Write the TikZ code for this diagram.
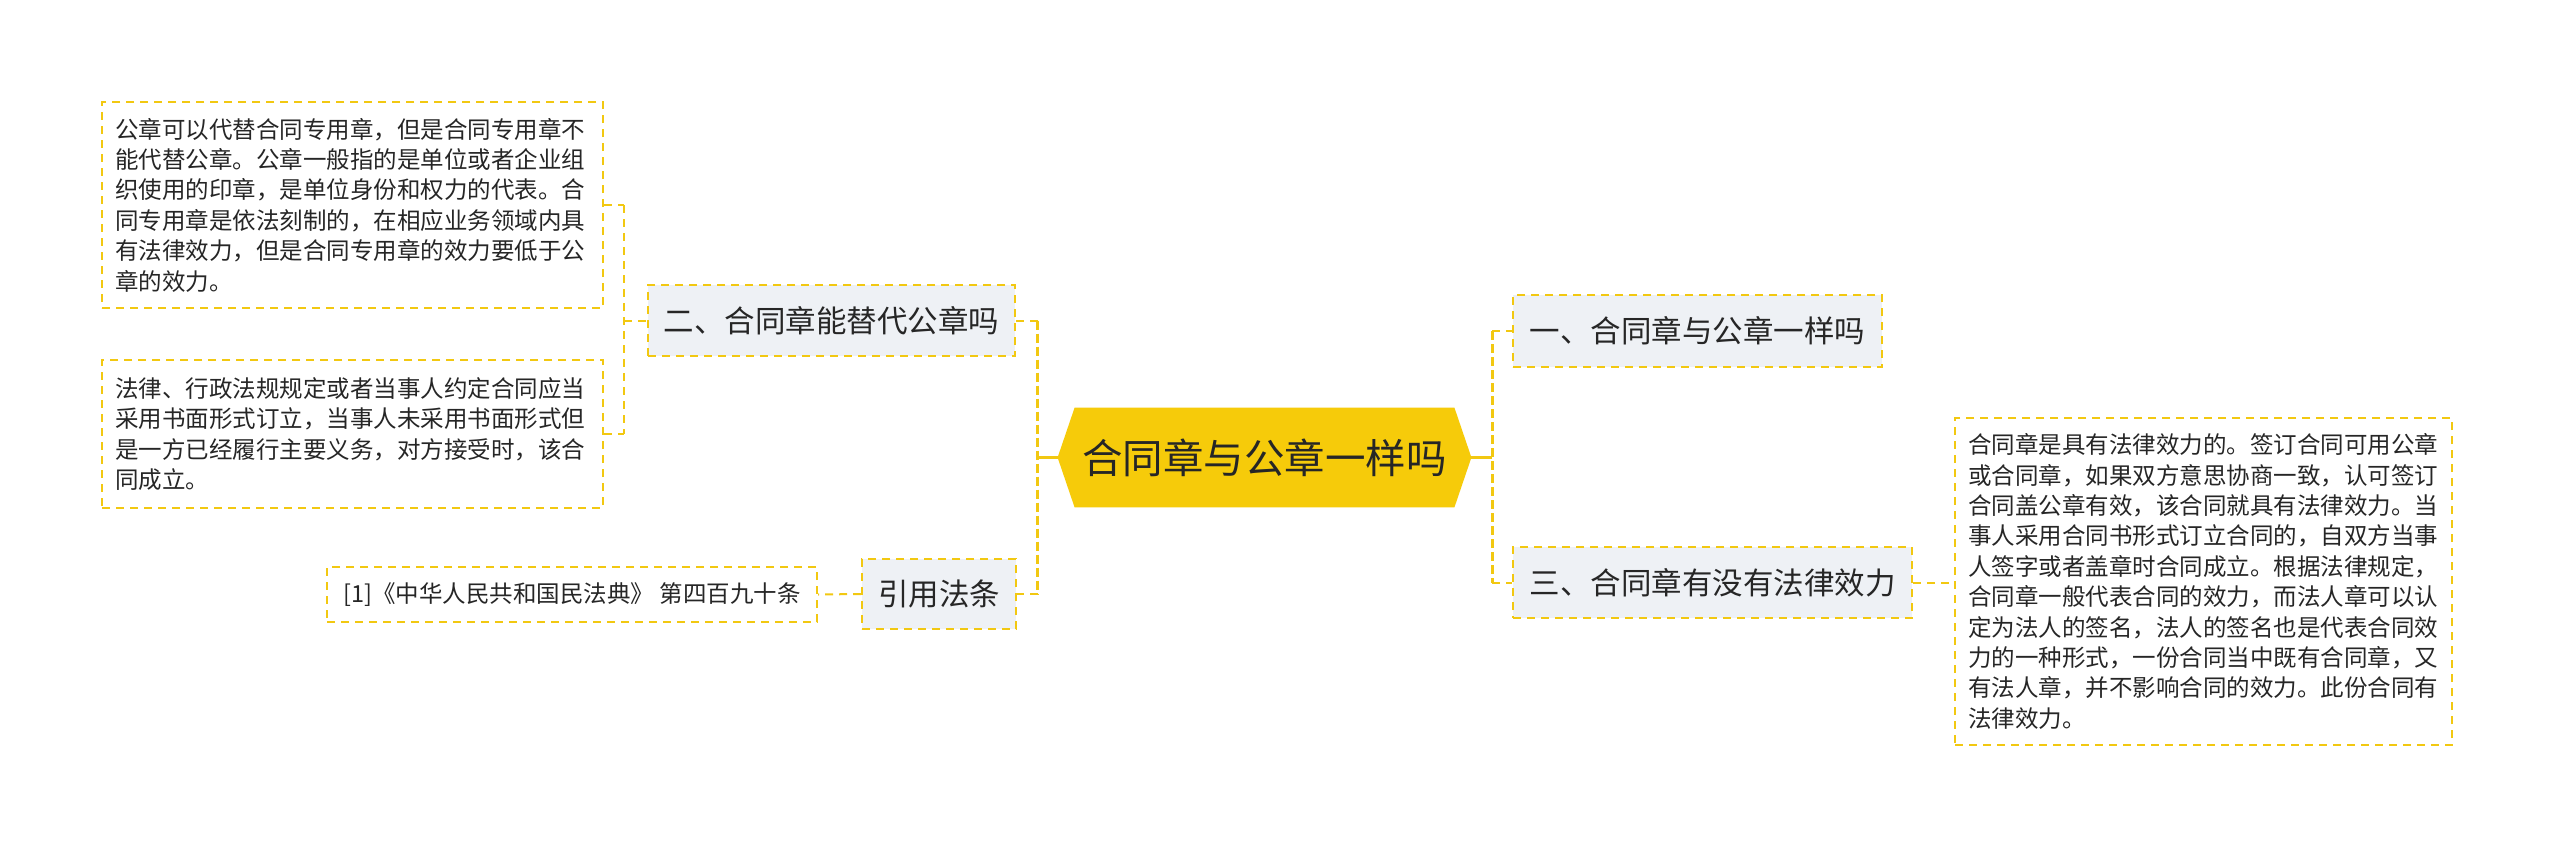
\documentclass[tikz,border=0pt]{standalone}
\usepackage{fontspec}
\setmainfont{Noto Sans CJK SC}
\usetikzlibrary{backgrounds}

\definecolor{gold}{HTML}{F2C811}
\definecolor{rootgold}{HTML}{F6CB0A}
\definecolor{boxgray}{HTML}{EEF1F5}
\definecolor{ink}{HTML}{262626}

\tikzset{
  topic/.style={draw=gold, line width=1pt, dash pattern=on 4pt off 3pt,
    fill=boxgray, text=ink, inner sep=0pt, font=\fontsize{15.25}{18}\selectfont},
  note/.style={draw=gold, line width=1pt, dash pattern=on 4pt off 3pt,
    fill=white, text=ink, inner xsep=6.5pt, inner ysep=0pt, align=left,
    font=\fontsize{11.75}{15.2}\selectfont},
  trunk/.style={gold, line width=1.5pt, dash pattern=on 4.5pt off 2pt},
  twig/.style={gold, line width=1pt, dash pattern=on 4pt off 3pt},
  stem/.style={gold, line width=1.5pt},
}

\begin{document}
\begin{tikzpicture}[x=0.5pt,y=-0.5pt]
\useasboundingbox (0,0) rectangle (2560,851);

% centre
\node[text=ink, font=\fontsize{20.25}{24}\selectfont, inner sep=0pt,
  minimum width=206.5pt, minimum height=49.5pt] (root) at (1264.5,457.5) {合同章与公章一样吗};
\begin{scope}[on background layer]
\fill[white] (0,0) rectangle (2560,851);
\fill[rootgold] (root.west) -- ([xshift=8.5pt]root.north west) -- ([xshift=-8.5pt]root.north east)
  -- (root.east) -- ([xshift=-8.5pt]root.south east) -- ([xshift=8.5pt]root.south west) -- cycle;
\end{scope}

% branches
\node[topic, minimum width=184.5pt, minimum height=36pt] (q1) at (1697.5,331) {一、合同章与公章一样吗};
\node[topic, minimum width=183.5pt, minimum height=35.5pt] (q2) at (831.5,320.5) {二、合同章能替代公章吗};
\node[topic, minimum width=199.5pt, minimum height=35.5pt] (q3) at (1712.5,582.5) {三、合同章有没有法律效力};
\node[topic, minimum width=77pt, minimum height=35pt] (law) at (939,594) {引用法条};

% notes
\node[note, text width=237.5pt, minimum height=103pt] (n1) at (352.5,205) {公章可以代替合同专用章，但是合同专用章不\\能代替公章。公章一般指的是单位或者企业组\\织使用的印章，是单位身份和权力的代表。合\\同专用章是依法刻制的，在相应业务领域内具\\有法律效力，但是合同专用章的效力要低于公\\章的效力。};
\node[note, text width=237.5pt, minimum height=74pt] (n2) at (352.5,434) {法律、行政法规规定或者当事人约定合同应当\\采用书面形式订立，当事人未采用书面形式但\\是一方已经履行主要义务，对方接受时，该合\\同成立。};
\node[note, text width=235.5pt, minimum height=163.5pt] (n3) at (2203.5,581.5) {合同章是具有法律效力的。签订合同可用公章\\或合同章，如果双方意思协商一致，认可签订\\合同盖公章有效，该合同就具有法律效力。当\\事人采用合同书形式订立合同的，自双方当事\\人签字或者盖章时合同成立。根据法律规定，\\合同章一般代表合同的效力，而法人章可以认\\定为法人的签名，法人的签名也是代表合同效\\力的一种形式，一份合同当中既有合同章，又\\有法人章，并不影响合同的效力。此份合同有\\法律效力。};
\node[note, minimum width=245pt, minimum height=27.5pt] (cite) at (572,594.5) {[1]《中华人民共和国民法典》 第四百九十条};

% right side
\coordinate (rj) at ([xshift=10.5pt]root.east);
\draw[stem] (root.east) -- (rj);
\draw[trunk] (rj |- q1.west) -- (rj |- q3.west);
\draw[twig] (rj |- q1.west) -- (q1.west);
\draw[twig] (rj |- q3.west) -- (q3.west);
\draw[twig] (q3.east) -- (q3.east -| n3.west);

% left side
\coordinate (lj) at ([xshift=-10pt]root.west);
\draw[stem] (root.west) -- (lj);
\draw[trunk] (lj |- q2.east) -- (lj |- law.east);
\draw[twig] (lj |- q2.east) -- (q2.east);
\draw[twig] (lj |- law.east) -- (law.east);
\draw[twig] (law.west) -- (cite.east);

\coordinate (qj) at ([xshift=-11.5pt]q2.west);
\draw[twig] (qj |- n1.east) -- (qj |- n2.east);
\draw[twig] (qj) -- (q2.west);
\draw[twig] (n1.east) -- (qj |- n1.east);
\draw[twig] (n2.east) -- (qj |- n2.east);
\end{tikzpicture}
\end{document}
